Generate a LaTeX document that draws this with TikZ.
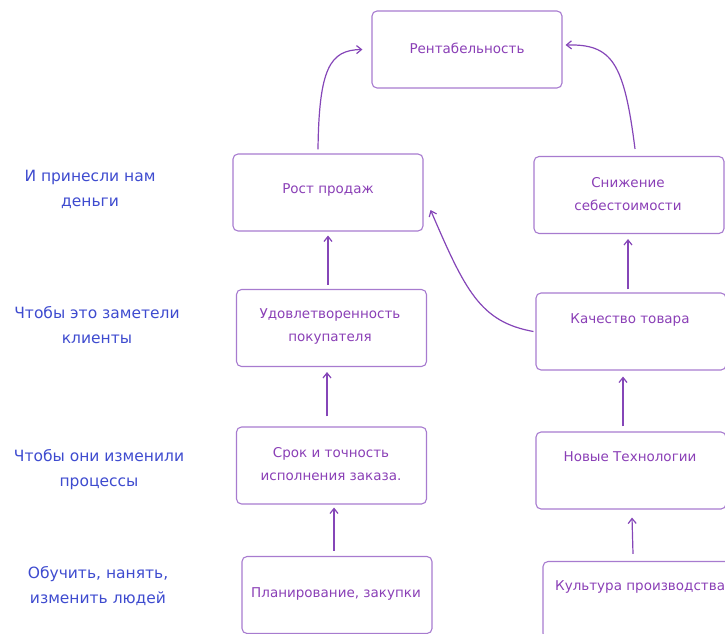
\documentclass[tikz,border=0pt]{standalone}
\usepackage{fontspec}
\setmainfont{DejaVu Sans}
\usetikzlibrary{arrows.meta,calc}
\definecolor{boxline}{HTML}{A77BCF}
\definecolor{boxink}{HTML}{8A3FB6}
\definecolor{arrowink}{HTML}{8546B8}
\definecolor{noteink}{HTML}{3E4BCF}
\tikzset{
  box/.style={draw=boxline, line width=1.1pt, rounded corners=5pt,
    minimum width=190pt, minimum height=77pt, inner sep=0pt},
  boxtext/.style={text=boxink, font=\fontsize{13.5}{23}\selectfont,
    align=center, inner sep=0pt},
  note/.style={text=noteink, font=\fontsize{15.5}{25}\selectfont,
    align=center, inner sep=0pt},
  arr/.style={draw=arrowink, line width=1.2pt,
    -{Straight Barb[length=5pt,width=8pt]}}
}
\begin{document}
\begin{tikzpicture}[x=1pt,y=-1pt]
  \useasboundingbox (0,0) rectangle (725,634);
  \clip (0,0) rectangle (725,634);

  % goal chain boxes
  \node[box] (rent)  at (467,49.5)  {};
  \node[box] (rost)  at (328,192.5) {};
  \node[box] (snizh) at (629,195)   {};
  \node[box] (udov)  at (331.5,328) {};
  \node[box] (kach)  at (631,331.5) {};
  \node[box] (srok)  at (331.5,465.5) {};
  \node[box] (novye) at (631,470.5) {};
  \node[box] (plan)  at (337,595)   {};
  \node[box] (kult)  at (638,600)   {};

  % box captions
  \node[boxtext] (trent)  at (467,48)  {Рентабельность};
  \node[boxtext] (trost)  at (328,190) {Рост продаж};
  \node[boxtext] (tsnizh) at (628,194) {Снижение\\себестоимости};
  \node[boxtext] (tudov)  at (330,326.5) {Удовлетворенность\\покупателя};
  \node[boxtext] (tkach)  at (630,320) {Качество товара};
  \node[boxtext] (tsrok)  at (331,464.5) {Срок и точность\\исполнения заказа.};
  \node[boxtext] (tnovye) at (630,457) {Новые Технологии};
  \node[boxtext] (tplan)  at (336,594) {Планирование, закупки};
  \node[boxtext,anchor=west] (tkult) at (555,587) {Культура производства};

  % level notes on the left
  \node[note] (n1) at (90,189.5) {И принесли нам\\деньги};
  \node[note] (n2) at (97,325.5) {Чтобы это заметели\\клиенты};
  \node[note] (n3) at (99,470)   {Чтобы они изменили\\процессы};
  \node[note] (n4) at (98,586.5) {Обучить, нанять,\\изменить людей};

  % connectors
  \draw[arr] ([xshift=-10pt,yshift=4pt]rost.north)
    .. controls (319,68) and (330,50) .. ([xshift=-9pt]rent.west);
  \draw[arr] ([xshift=6pt,yshift=7pt]snizh.north)
    .. controls (624,62) and (612,44) .. ([xshift=3pt,yshift=4.5pt]rent.east);
  \draw[arr] ([xshift=-3.5pt,yshift=4pt]udov.north) -- ([yshift=-4pt]rost.south);
  \draw[arr] ([xshift=-2pt]kach.west)
    .. controls (480,322) and (465,290) .. ([xshift=7pt,yshift=-17.5pt]rost.east);
  \draw[arr] ([xshift=-3pt,yshift=3pt]kach.north) -- ([xshift=-1pt,yshift=-5pt]snizh.south);
  \draw[arr] ([xshift=-4.5pt,yshift=10pt]srok.north) -- ([xshift=-4.5pt,yshift=-5pt]udov.south);
  \draw[arr] ([xshift=-8pt,yshift=5pt]novye.north) -- ([xshift=-8pt,yshift=-6pt]kach.south);
  \draw[arr] ([xshift=-3pt,yshift=5pt]plan.north) -- ([xshift=2.5pt,yshift=-3pt]srok.south);
  \draw[arr] ([xshift=-5pt,yshift=7pt]kult.north) -- ([xshift=1pt,yshift=-8pt]novye.south);
\end{tikzpicture}
\end{document}
